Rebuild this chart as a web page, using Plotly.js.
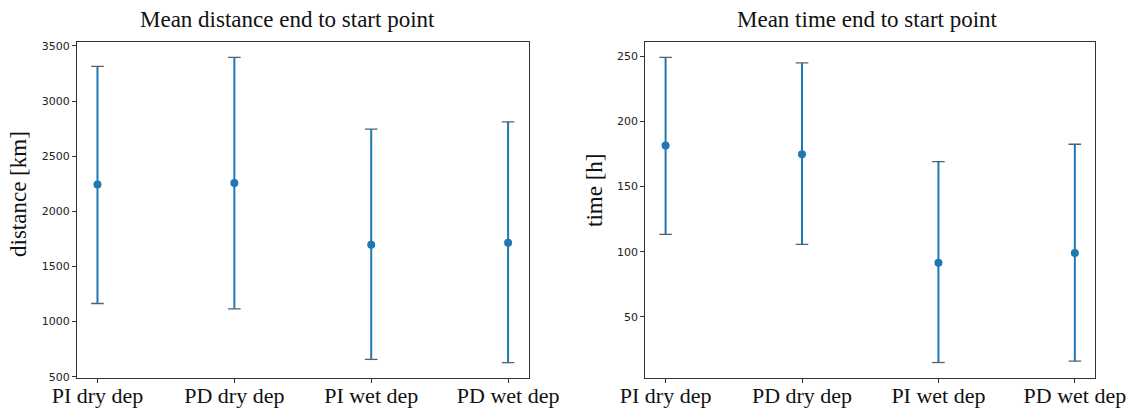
<!DOCTYPE html>
<html>
<head>
<meta charset="utf-8">
<script src="https://cdn.plot.ly/plotly-3.0.1.min.js"></script>
<style>
  html, body { margin: 0; padding: 0; background: #ffffff; }
  #chart { width: 1140px; height: 413px; }
</style>
</head>
<body>
<div id="chart"></div>
<script>
// Deposition cases shown on both panels
const categories = ["PI dry dep", "PD dry dep", "PI wet dep", "PD wet dep"];

// Mean distance between end and start point [km], with spread above / below the mean
const distanceMean = [2243, 2257, 1697, 1715];
const distanceErrUp = [1072, 1140, 1048, 1097];
const distanceErrDown = [1079, 1142, 1040, 1088];

// Mean time between end and start point [h], with spread above / below the mean
const timeMean = [181.5, 174.8, 91.5, 99.0];
const timeErrUp = [67.7, 70.1, 77.7, 83.5];
const timeErrDown = [68.2, 69.2, 76.6, 83.1];

const tickLabels = categories;

const blue = "#1f77b4";
const capColor = "#5a5f66";
const serif = "'Liberation Serif', 'DejaVu Serif', serif";
const sans = "'DejaVu Sans', sans-serif";

// Mean marker with a vertical error bar (no built-in caps)
function errTrace(means, up, down, xa, ya) {
  return {
    type: "scatter",
    mode: "markers",
    x: categories.map((_, i) => i),
    y: means,
    xaxis: xa,
    yaxis: ya,
    marker: { color: blue, size: 8 },
    error_y: {
      type: "data",
      symmetric: false,
      array: up,
      arrayminus: down,
      color: blue,
      thickness: 2,
      width: 0
    },
    showlegend: false,
    hoverinfo: "x+y"
  };
}

// Caps at both ends of the error bars, drawn as short horizontal ticks
function capTrace(means, up, down, xa, ya) {
  const xs = [], ys = [];
  means.forEach((m, i) => {
    xs.push(i, i);
    ys.push(m + up[i], m - down[i]);
  });
  return {
    type: "scatter",
    mode: "markers",
    x: xs,
    y: ys,
    xaxis: xa,
    yaxis: ya,
    marker: { symbol: "line-ew", size: 9, line: { color: capColor, width: 1.3 } },
    showlegend: false,
    hoverinfo: "skip"
  };
}

const xCommon = {
  range: [-0.15, 3.15],
  tickmode: "array",
  tickvals: categories.map((_, i) => i),
  ticktext: tickLabels,
  ticks: "outside",
  ticklen: 4,
  tickwidth: 1,
  tickcolor: "#333",
  ticklabelstandoff: -6,
  showline: true,
  mirror: true,
  linecolor: "#333",
  linewidth: 1,
  showgrid: false,
  zeroline: false,
  tickfont: { family: serif, size: 22, color: "#111" }
};

const yCommon = {
  ticks: "outside",
  ticklen: 4,
  tickwidth: 1,
  tickcolor: "#333",
  showline: true,
  mirror: true,
  linecolor: "#333",
  linewidth: 1,
  showgrid: false,
  zeroline: false,
  tickfont: { family: sans, size: 11, color: "#222" }
};

const data = [
  errTrace(distanceMean, distanceErrUp, distanceErrDown, "x", "y"),
  capTrace(distanceMean, distanceErrUp, distanceErrDown, "x", "y"),
  errTrace(timeMean, timeErrUp, timeErrDown, "x2", "y2"),
  capTrace(timeMean, timeErrUp, timeErrDown, "x2", "y2")
];

const layout = {
  width: 1140,
  height: 413,
  margin: { l: 0, r: 0, t: 0, b: 0 },
  paper_bgcolor: "#ffffff",
  plot_bgcolor: "#ffffff",
  xaxis: Object.assign({}, xCommon, { domain: [0.0675, 0.4637], anchor: "y" }),
  yaxis: Object.assign({}, yCommon, {
    domain: [0.0847, 0.8983], anchor: "x",
    range: [488, 3536],
    tickvals: [500, 1000, 1500, 2000, 2500, 3000, 3500]
  }),
  xaxis2: Object.assign({}, xCommon, { domain: [0.5659, 0.9608], anchor: "y2" }),
  yaxis2: Object.assign({}, yCommon, {
    domain: [0.0847, 0.8983], anchor: "x2",
    range: [3, 261],
    tickvals: [50, 100, 150, 200, 250]
  }),
  annotations: [
    {
      text: "Mean distance end to start point",
      xref: "paper", yref: "paper", x: 287 / 1140, y: 1 - 19 / 413,
      xanchor: "center", yanchor: "middle", showarrow: false,
      font: { family: serif, size: 23, color: "#111" }
    },
    {
      text: "Mean time end to start point",
      xref: "paper", yref: "paper", x: 867 / 1140, y: 1 - 19 / 413,
      xanchor: "center", yanchor: "middle", showarrow: false,
      font: { family: serif, size: 23, color: "#111" }
    },
    {
      text: "distance [km]",
      xref: "paper", yref: "paper", x: 18 / 1140, y: 1 - 194 / 413,
      xanchor: "center", yanchor: "middle", showarrow: false, textangle: -90,
      font: { family: serif, size: 23, color: "#111" }
    },
    {
      text: "time [h]",
      xref: "paper", yref: "paper", x: 595 / 1140, y: 1 - 191 / 413,
      xanchor: "center", yanchor: "middle", showarrow: false, textangle: -90,
      font: { family: serif, size: 23, color: "#111" }
    }
  ]
};

Plotly.newPlot("chart", data, layout, { displayModeBar: false, staticPlot: true });
</script>
</body>
</html>
